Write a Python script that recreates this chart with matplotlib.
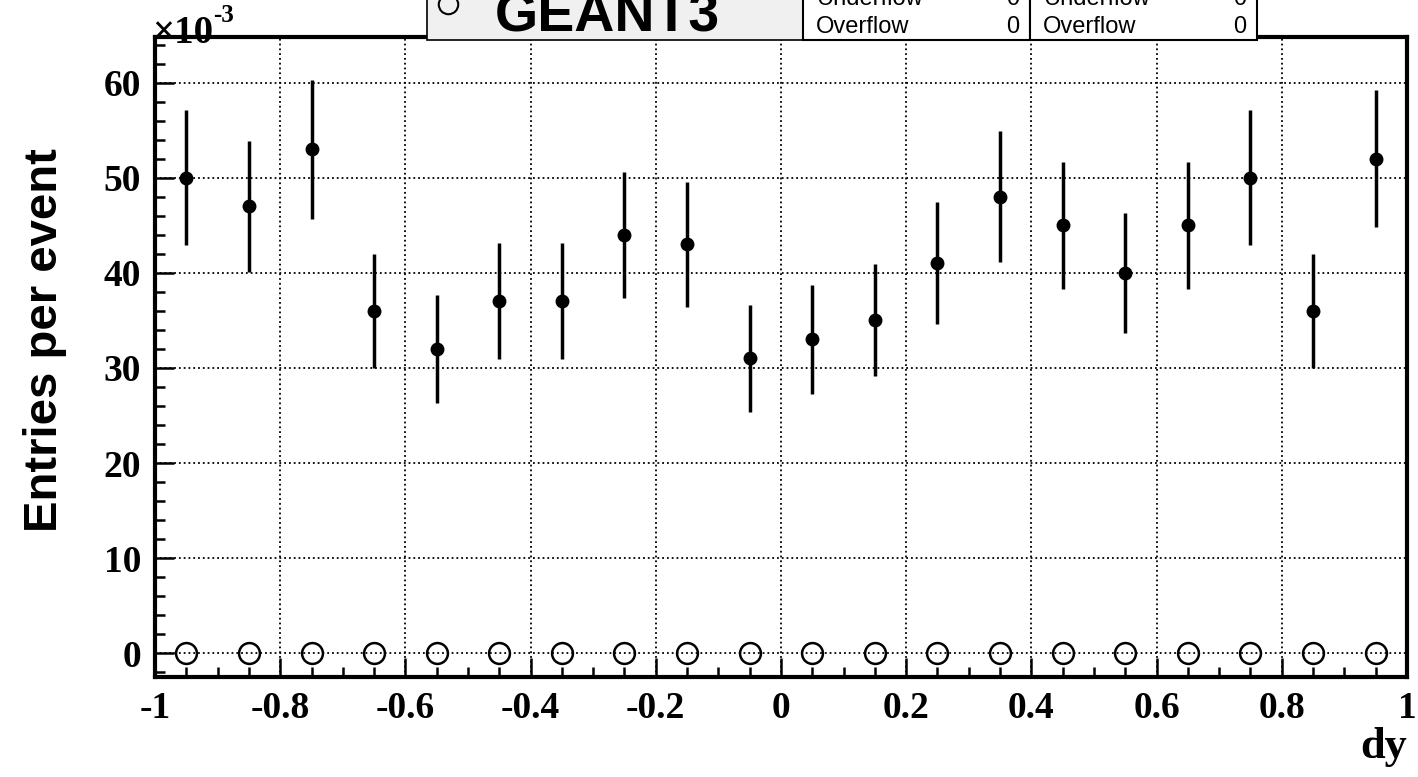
import matplotlib
matplotlib.use('Agg')
import matplotlib.pyplot as plt
from matplotlib.ticker import MultipleLocator
from matplotlib.patches import Rectangle

# data (units of 1e-3)
dy = [-0.95, -0.85, -0.75, -0.65, -0.55, -0.45, -0.35, -0.25, -0.15, -0.05,
      0.05, 0.15, 0.25, 0.35, 0.45, 0.55, 0.65, 0.75, 0.85, 0.95]
entries = [50, 47, 53, 36, 32, 37, 37, 44, 43, 31,
           33, 35, 41, 48, 45, 40, 45, 50, 36, 52]
errors = [7.1, 6.9, 7.3, 6.0, 5.7, 6.1, 6.1, 6.6, 6.6, 5.6,
          5.7, 5.9, 6.4, 6.9, 6.7, 6.3, 6.7, 7.1, 6.0, 7.2]
geant3 = [0] * 20

fig = plt.figure(figsize=(14.18, 7.77), dpi=100)
W, H = 1418, 777
ax = fig.add_axes([155 / W, 1 - 677 / H, (1407 - 155) / W, (677 - 37) / H])

ax.errorbar(dy, entries, yerr=errors, fmt='o', color='black', ms=9,
            elinewidth=2.5, capsize=0, zorder=3)
ax.plot(dy, geant3, 'o', mfc='none', mec='black', ms=15, mew=1.8, zorder=3)

ax.set_xlim(-1, 1)
ax.set_ylim(-2.5, 64.8)
ax.xaxis.set_major_locator(MultipleLocator(0.2))
ax.xaxis.set_minor_locator(MultipleLocator(0.05))
ax.yaxis.set_major_locator(MultipleLocator(10))
ax.yaxis.set_minor_locator(MultipleLocator(2))
ax.grid(True, which='major', ls=':', color='black', lw=1.3)
ax.tick_params(which='both', direction='in', top=False, right=False, width=1.8)
ax.tick_params(which='major', length=14, labelsize=27, pad=10)
ax.tick_params(which='minor', length=7)
for s in ax.spines.values():
    s.set_linewidth(3)

ax.xaxis.set_major_formatter(plt.FuncFormatter(lambda v, p: '%g' % round(v, 2)))
ax.yaxis.set_major_formatter(plt.FuncFormatter(lambda v, p: '%g' % v))
for lab in ax.get_xticklabels() + ax.get_yticklabels():
    lab.set_family('Liberation Serif')
    lab.set_fontweight('bold')

fig.text(45 / W, 1 - 340 / H, 'Entries per event', rotation=90, ha='center', va='center',
         family='Liberation Sans', fontweight='bold', fontsize=34)
fig.text(1407 / W, 1 - 758 / H, 'dy', ha='right', va='baseline',
         family='Liberation Serif', fontweight='bold', fontsize=32)
fig.text(152 / W, 1 - 43 / H, '\u00d710', ha='left', va='baseline',
         family='Liberation Serif', fontweight='bold', fontsize=28)
fig.text(213 / W, 1 - 22 / H, '-3', ha='left', va='baseline',
         family='Liberation Serif', fontweight='bold', fontsize=18)

# legend box (clipped at top)
fig.patches.append(Rectangle((427 / W, 1 - 40 / H), (803 - 427) / W, 60 / H,
                             transform=fig.transFigure, fc='#f0f0f0', ec='black', lw=1.2))
fig.lines.append(plt.Line2D([448 / W], [1 - 4 / H], transform=fig.transFigure,
                            marker='o', mfc='none', mec='black', ms=14, mew=1.5))
fig.text(495 / W, 1 - 32 / H, 'GEANT3', ha='left', va='baseline',
         family='Liberation Sans', fontweight='bold', fontsize=40)

# stats boxes
for x0 in (803, 1030):
    fig.patches.append(Rectangle((x0 / W, 1 - 40 / H), 227 / W, 60 / H,
                                 transform=fig.transFigure, fc='white', ec='black', lw=1.5))
    fig.text((x0 + 13) / W, 1 - 33 / H, 'Overflow', ha='left', va='baseline',
             family='Liberation Sans', fontsize=17)
    fig.text((x0 + 216) / W, 1 - 33 / H, '0', ha='right', va='baseline',
             family='Liberation Sans', fontsize=17)
    fig.text((x0 + 13) / W, 1 - 5 / H, 'Underflow', ha='left', va='baseline',
             family='Liberation Sans', fontsize=17)
    fig.text((x0 + 216) / W, 1 - 5 / H, '0', ha='right', va='baseline',
             family='Liberation Sans', fontsize=17)

fig.savefig('out.png', dpi=100)
